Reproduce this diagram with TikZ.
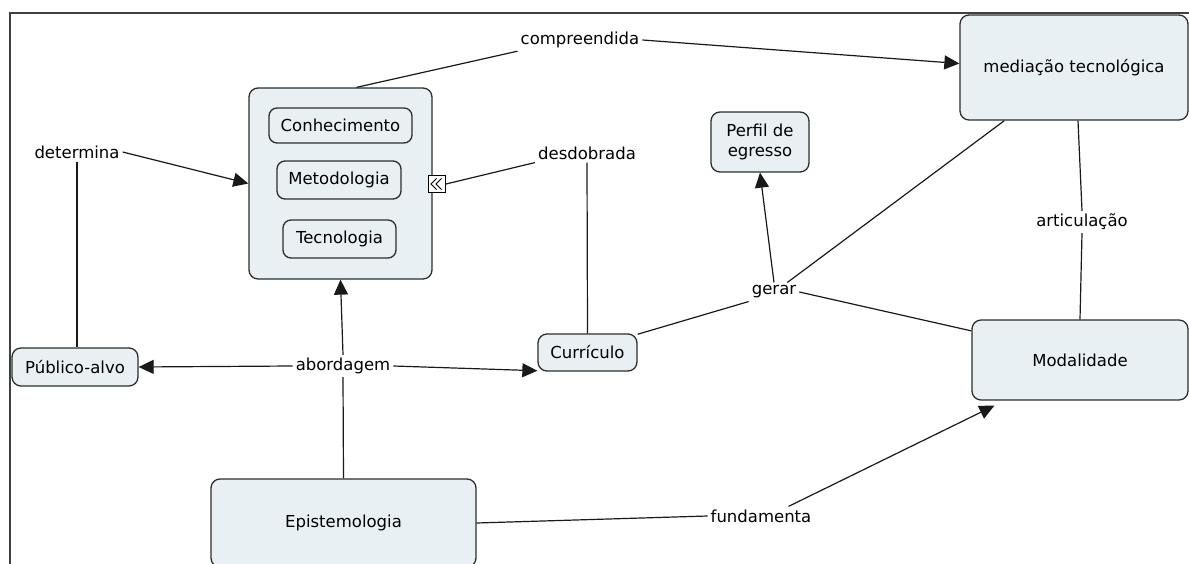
\documentclass[tikz,border=0pt]{standalone}
\usepackage{fontspec}
\setmainfont{DejaVu Sans}
\usetikzlibrary{arrows.meta,calc}
\definecolor{boxfill}{RGB}{233,240,243}
\definecolor{boxline}{RGB}{45,45,45}
\newcommand\figfont{\fontsize{16.5}{20}\selectfont}
\begin{document}
\begin{tikzpicture}[x=1pt,y=-1pt,
  concept/.style={draw=boxline,line width=1.3pt,fill=boxfill,rounded corners=9pt,inner sep=0pt,align=center,font=\figfont},
  lbl/.style={inner sep=3pt,font=\figfont},
  conn/.style={line width=1.2pt,draw=black!90},
  arr/.style={conn,-{Triangle[length=15pt,width=14pt]}},
  frame/.style={line width=2pt,draw=black!75},
  chevron/.style={line width=1pt,draw=black}
]
\useasboundingbox (0,0) rectangle (1189,564);
\clip (0,0) rectangle (1189,564);

% frame
\coordinate (fbl) at (10,570);
\coordinate (ftl) at (10,13);
\coordinate (ftr) at (1195,13);
\draw[frame] (fbl) -- (ftl) -- (ftr);

% concepts
\node[concept, minimum width=183, minimum height=191] (container) at (340.5,183.5) {};
\node[concept, rounded corners=8pt, minimum width=143, minimum height=35] (conh) at (340.5,125.5) {Conhecimento};
\node[concept, rounded corners=8pt, minimum width=124, minimum height=38] (metod) at (339,180) {Metodologia};
\node[concept, rounded corners=8pt, minimum width=113, minimum height=38] (tecno) at (339.5,239) {Tecnologia};
\node[draw=black, line width=1pt, fill=white, inner sep=0pt, minimum width=17, minimum height=17,
  path picture={
    \draw[chevron] ([xshift=8pt,yshift=5.5pt]path picture bounding box.west) -- ([xshift=2.5pt]path picture bounding box.west) -- ([xshift=8pt,yshift=-5.5pt]path picture bounding box.west);
    \draw[chevron] ([xshift=13pt,yshift=5.5pt]path picture bounding box.west) -- ([xshift=7.5pt]path picture bounding box.west) -- ([xshift=13pt,yshift=-5.5pt]path picture bounding box.west);
  }] (icon) at (437,184) {};

\node[concept, minimum width=126, minimum height=38] (publico) at (75,367) {Público-alvo};
\node[concept, minimum width=99, minimum height=37] (curriculo) at (587.5,352.5) {Currículo};
\node[concept, minimum width=265, minimum height=88] (episteme) at (343.5,523) {Epistemologia};
\node[concept, minimum width=216, minimum height=80] (modal) at (1080,360) {Modalidade};
\node[concept, minimum width=228, minimum height=105] (mediacao) at (1074,67.5) {mediação tecnológica};
\node[concept, minimum width=98, minimum height=60] (perfil) at (760,142) {Perfil de\\egresso};

% link labels
\node[lbl] (determina) at (77,152) {determina};
\node[lbl] (abordagem) at (343,366) {abordagem};
\node[lbl] (fundamenta) at (761,516) {fundamenta};
\node[lbl] (articul) at (1082,222) {articulação};
\node[lbl] (compre) at (580,40) {compreendida};
\node[lbl] (desdob) at (587,153) {desdobrada};
\node[lbl] (gerar) at (774,292) {gerar};

% connectors
\draw[conn] ([xshift=16pt]container.north) -- (compre.south west);
\draw[arr] (compre.east) -- ([yshift=4pt]mediacao.west);

\draw[arr] (determina.east) -- (container.west);
\draw[conn] (determina.south) -- (determina.south |- publico.north);

\draw[conn] (desdob.south west) -- (icon.east);
\draw[conn] (desdob.south) -- (curriculo.north);

\draw[conn] (episteme.north) -- (abordagem.south);
\draw[arr] (abordagem.north) -- (container.south);
\draw[arr] (abordagem.west) -- (publico.east);
\draw[arr] (abordagem.east) -- (curriculo.200);

\draw[conn] (curriculo.20) -- (gerar.south west);
\draw[conn] ([xshift=45pt]mediacao.south west) -- ([xshift=-12pt]gerar.north east);
\draw[conn] (modal.165) -- (gerar.east);
\draw[arr] (gerar.north) -- (perfil.south);

\draw[conn] ([xshift=4pt]mediacao.south) -- (articul.north);
\draw[conn] (articul.south) -- (modal.north);

\draw[conn] (episteme.east) -- (fundamenta.west);
\draw[arr] ([xshift=-26pt]fundamenta.north east) -- ([xshift=23pt,yshift=-5pt]modal.south west);
\end{tikzpicture}
\end{document}
